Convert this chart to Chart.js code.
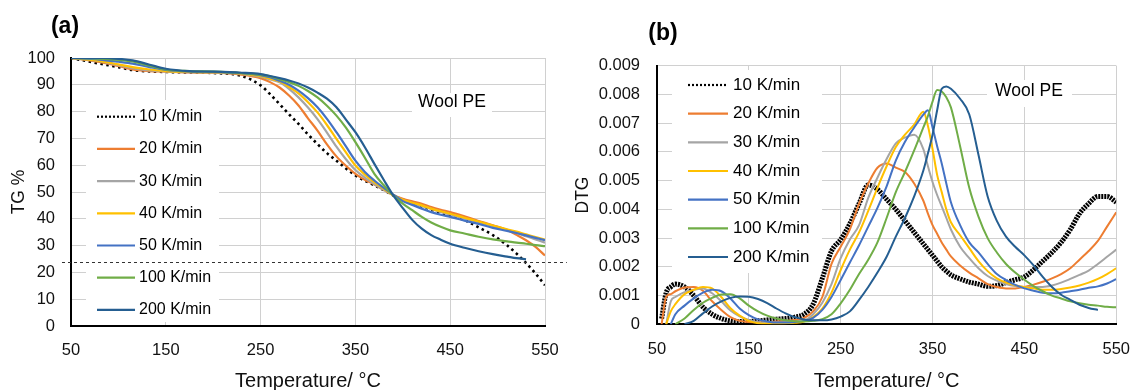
<!DOCTYPE html>
<html><head><meta charset="utf-8">
<script src="https://cdn.jsdelivr.net/npm/chart.js@4.4.1/dist/chart.umd.min.js"></script>
<style>
html,body{margin:0;padding:0;background:#fff;width:1145px;height:390px;overflow:hidden}
.panel{position:absolute;top:0;height:390px}
#pa{left:0;width:575px}
#pb{left:575px;width:570px}
canvas{display:block}
</style></head><body>
<div class="panel" id="pa"><canvas id="ca" width="575" height="390"></canvas></div>
<div class="panel" id="pb"><canvas id="cb" width="570" height="390"></canvas></div>
<script>
// ---------- shared ----------
const rateLabels = ['10 K/min','20 K/min','30 K/min','40 K/min','50 K/min','100 K/min','200 K/min'];
const rateColors = ['#000000','#ED7D31','#A5A5A5','#FFC000','#4472C4','#70AD47','#255E91'];
const xTicks = [50,150,250,350,450,550];

// ---------- panel (a): TG % ----------
const tempA = [50,80,100,115,133,150,175,200,230,250,260,270,280,290,300,310,320,330,340,350,360,370,380,390,400,410,420,430,440,450,465,480,495,510,520,530,540,550];
const tg10  = [100,97.9,96.6,95.5,95,94.8,94.6,94.4,93.3,89.8,86.5,82.8,79,75.4,71.5,67.9,64.5,61.7,58.8,56.2,54.2,52.5,50.7,48.7,47.2,45.9,44.6,43.4,42.2,41.2,39.5,36.8,33.9,30.1,27,23.5,19.6,15.2];
const tg20  = [100,98.5,97,95.7,95.1,94.9,94.6,94.5,93.8,92.5,91,89,86,82.3,77.5,72.9,67.8,63.3,59.8,56.8,54.6,52.8,50.8,48.9,47.5,46.5,45.6,44.4,43.4,42.5,40.9,39.2,37.6,35.8,34,32,29.5,26.3];
const tg30  = [100,98.8,97.3,96.2,95.4,95,94.7,94.6,94.1,93,92,90.9,88.5,85.3,81.5,77.2,72.2,66.9,62.2,58.2,55.4,53,50.8,48.8,47,45.9,44.8,43.7,42.6,41.6,40.1,38.8,37.3,35.8,34.7,33.5,32.3,31.1];
const tg40  = [100,98.9,97.6,96.6,95.7,95.1,94.8,94.7,94.2,93.3,92.3,91.2,89.2,86.8,83.5,79.7,75,69.8,64.8,59.9,56.5,53.7,51.2,48.8,47.1,46,45,43.8,42.8,41.9,40.4,39,37.5,36.1,35.2,34.2,33.2,32.2];
const tg50  = [100,99.4,98.6,97.9,96.6,95.6,95,94.8,94.3,93.6,92.8,91.5,90,87.8,85,81.6,77.3,72.3,67,61.7,57.5,54.3,51.5,49,46.6,45.2,43.8,42.5,41.5,40.7,39.3,38.1,36.6,35.5,34.7,33.8,32.9,32];
const tg100 = [100,99.8,99.3,98.7,97.1,95.7,95.1,94.9,94.4,93.8,93.2,92.1,91,89.6,87.7,85.3,82.2,78.5,74,68.6,62.8,56.8,52.5,48.7,45.7,43.2,40.7,38.6,37,35.7,34.5,33.3,32.3,31.6,31.1,30.7,30.2,29.8];
const tg200 = [100,100,99.7,99.1,97.5,96,95.1,94.9,94.5,94,93.3,92.5,91.6,90.5,89,87.1,84.8,81.6,77,72.3,66.7,60.5,54.5,48.7,44,39.6,36.3,33.9,32.2,30.7,29.2,27.9,26.8,25.9,25.3,24.9,null,null];
const tgTicks = [0,10,20,30,40,50,60,70,80,90,100];
const refLevel = 23.7;          // dashed horizontal reference (TG %)
const refSpan = [40.5, 573];    // temperature extent of the dashed line

// ---------- panel (b): DTG ----------
const tempB = [50,55,60,65,70,80,90,100,110,120,
  130,140,150,160,170,180,190,200,210,220,
  230,240,250,260,270,280,290,300,310,320,
  330,340,345,350,355,360,365,370,380,390,
  400,410,420,430,440,450,460,470,480,490,
  500,510,520,530,540,550];
const dtg10 = [null,0.0002,0.0011,0.0013,0.0014,0.0013,0.0010,0.0006,0.00035,0.0002,
  0.00012,0.0001,0.0001,0.00012,0.00015,0.00018,0.0002,0.00025,0.00035,0.0007,
  0.0016,0.00255,0.00295,0.0035,0.0042,0.00485,0.0047,0.00435,0.004,0.0036,
  0.0032,0.0028,0.0026,0.0024,0.0022,0.002,0.00185,0.00172,0.00158,0.00147,
  0.0014,0.00132,0.00135,0.00145,0.00155,0.00165,0.0019,0.0022,0.0025,0.00285,
  0.0033,0.00385,0.0042,0.00445,0.00445,0.00425];
const dtg20 = [null,0,0.00096,0.00105,0.00115,0.00128,0.0013,0.00117,0.0008,0.0005,
  0.00025,0.00012,0.00008,0.00007,0.00008,0.0001,0.00012,0.00015,0.00022,0.00045,
  0.00095,0.0021,0.0027,0.0033,0.0042,0.0049,0.00545,0.0056,0.00545,0.0053,
  0.0049,0.0043,0.00385,0.00345,0.00315,0.00285,0.0026,0.00236,0.00205,0.0018,
  0.0016,0.0014,0.0013,0.00125,0.00125,0.0013,0.00138,0.00148,0.0016,0.00175,
  0.00195,0.00225,0.00255,0.0029,0.0034,0.0039];
const dtg30 = [null,null,0,0.0008,0.00095,0.00112,0.0012,0.00125,0.00108,0.0008,
  0.00048,0.00028,0.00015,0.00007,0.00006,0.00006,0.00007,0.00008,0.00012,0.00035,
  0.00075,0.0014,0.0023,0.00295,0.00345,0.0044,0.0051,0.00575,0.0063,0.0065,
  0.0066,0.0061,0.0055,0.00495,0.0045,0.0041,0.0037,0.0033,0.0027,0.0023,
  0.00195,0.00168,0.00152,0.0014,0.00133,0.0013,0.0013,0.0013,0.00135,0.00145,
  0.00158,0.00172,0.00187,0.0021,0.00235,0.0026];
const dtg40 = [null,null,0,0.00045,0.0007,0.00105,0.0012,0.0013,0.00125,0.00095,
  0.00056,0.0003,0.00012,0.00004,0.00002,0.00002,0.00003,0.00005,0.0001,0.00025,
  0.00055,0.0011,0.00189,0.0026,0.0032,0.00395,0.00475,0.0055,0.00617,0.0066,
  0.00695,0.0074,0.0069,0.0061,0.0052,0.0046,0.004,0.00355,0.0031,0.00265,
  0.0022,0.00185,0.0016,0.00145,0.00136,0.0013,0.00125,0.0012,0.0012,0.00123,
  0.00128,0.00135,0.00145,0.00158,0.00175,0.00195];
const dtg50 = [null,null,null,0,0.00035,0.00065,0.0009,0.0011,0.0012,0.00115,
  0.0009,0.00055,0.00032,0.00017,0.0001,0.00006,0.00006,0.00008,0.00012,0.00022,
  0.0005,0.00095,0.00154,0.00215,0.00275,0.0034,0.00405,0.0048,0.0057,0.00635,
  0.00685,0.0073,0.00745,0.00685,0.0062,0.0056,0.0049,0.00425,0.00345,0.00285,
  0.0025,0.0021,0.00175,0.00154,0.00137,0.00125,0.00117,0.0011,0.00108,0.0011,
  0.00115,0.0012,0.00127,0.00132,0.00142,0.00157];
const dtg100 = [null,null,null,null,0,0.0002,0.0005,0.00075,0.00092,0.00104,
  0.00105,0.0009,0.00065,0.00045,0.0003,0.0002,0.00014,0.00011,0.0001,0.00012,
  0.00018,0.00035,0.00073,0.0012,0.00175,0.00225,0.00285,0.0037,0.0046,0.0053,
  0.00605,0.00685,0.00725,0.00775,0.00815,0.0081,0.0079,0.00755,0.0062,0.00475,
  0.00375,0.003,0.0025,0.0021,0.0018,0.00155,0.00133,0.00115,0.001,0.0009,
  0.0008,0.00073,0.00068,0.00065,0.00061,0.00059];
const dtg200 = [null,null,null,null,null,0,0.00012,0.00038,0.00062,0.0008,
  0.00092,0.00097,0.00096,0.00088,0.00074,0.00055,0.00038,0.00025,0.00017,0.00014,
  0.00014,0.00017,0.00027,0.00045,0.00085,0.0013,0.0018,0.00235,0.00305,0.0037,
  0.00445,0.00535,0.00595,0.0066,0.00745,0.0082,0.00828,0.0082,0.00785,0.0073,
  0.0059,0.00445,0.0036,0.00305,0.0027,0.0024,0.00205,0.00165,0.0013,0.00103,
  0.00085,0.00068,0.00057,0.0005,null,null];
const dtgTicks = [0,0.001,0.002,0.003,0.004,0.005,0.006,0.007,0.008,0.009];

// ---------- helpers ----------
const FONT = '"Liberation Sans", Arial, sans-serif';
const pair = (xs, ys) => xs.map((x, i) => ({x, y: ys[i]}));

function makeDatasets(xs, series, opts) {
  return series.map((ys, i) => {
    const dotted = i === 0;
    return {
      label: rateLabels[i],
      data: pair(xs, ys),
      borderColor: rateColors[i],
      backgroundColor: rateColors[i],
      borderWidth: dotted ? opts.dotWidth : opts.lineWidth,
      borderDash: dotted ? opts.dotDash : [],
      legendDash: dotted ? [2, 2] : [],
      pointRadius: 0,
      fill: false,
      cubicInterpolationMode: 'monotone',
      spanGaps: false,
      order: 10 - i
    };
  });
}

const decor = {
  id: 'decor',
  beforeDatasetsDraw(chart, args, o) {
    const ctx = chart.ctx;
    ctx.save();
    const L = o.legend;
    ctx.fillStyle = '#fff';
    ctx.fillRect(L.box[0], L.box[1], L.box[2], L.box[3]);
    chart.data.datasets.forEach((ds, i) => {
      if (ds.noLegend) return;
      const y = L.y0 + i * L.dy;
      ctx.beginPath();
      ctx.strokeStyle = ds.borderColor;
      ctx.lineWidth = L.lw;
      ctx.setLineDash(ds.legendDash || []);
      ctx.moveTo(L.x1, y); ctx.lineTo(L.x2, y); ctx.stroke();
      ctx.setLineDash([]);
      ctx.fillStyle = '#000';
      ctx.font = L.font;
      ctx.textAlign = 'left';
      ctx.textBaseline = 'middle';
      ctx.fillText(ds.label, L.tx, y);
    });
    const T = o.tag;
    ctx.fillStyle = '#fff';
    ctx.fillRect(T.box[0], T.box[1], T.box[2], T.box[3]);
    ctx.fillStyle = '#000';
    ctx.font = T.font;
    ctx.textAlign = 'center';
    ctx.textBaseline = 'middle';
    ctx.fillText(T.text, T.x, T.y);
    ctx.restore();
  },
  afterDraw(chart, args, o) {
    const ctx = chart.ctx;
    ctx.save();
    ctx.fillStyle = '#000';
    ctx.font = 'bold 23px ' + FONT;
    ctx.textAlign = 'center';
    ctx.textBaseline = 'middle';
    ctx.fillText(o.letter.text, o.letter.x, o.letter.y);
    ctx.restore();
  }
};

function makeOptions(cfg) {
  return {
    responsive: false,
    animation: false,
    events: [],
    layout: {padding: cfg.padding},
    plugins: {
      legend: {display: false},
      tooltip: {enabled: false},
      decor: cfg.decor
    },
    scales: {
      x: {
        type: 'linear', min: 50, max: 550,
        afterBuildTicks: s => { s.ticks = xTicks.map(v => ({value: v})); },
        afterFit: s => { s.height = cfg.xHeight; },
        grid: {color: '#d0d0d0', lineWidth: 1, drawTicks: false},
        border: {color: '#000', width: 2},
        ticks: {font: {family: FONT, size: 16.5}, color: '#111', padding: 15, maxRotation: 0},
        title: {display: true, text: 'Temperature/ °C', font: {family: FONT, size: 20}, color: '#111', padding: {top: 0, bottom: -3}}
      },
      y: {
        type: 'linear', min: cfg.yMin, max: cfg.yMax,
        afterBuildTicks: s => { s.ticks = cfg.yTicks.map(v => ({value: v})); },
        afterFit: s => { s.width = cfg.yWidth; },
        grid: {color: '#d0d0d0', lineWidth: 1, drawTicks: false},
        border: {color: '#000', width: 2},
        ticks: {font: {family: FONT, size: 16.5}, color: '#111', padding: cfg.yPad, callback: cfg.yFmt},
        title: {display: true, text: cfg.yTitle, font: {family: FONT, size: 17.5}, color: '#111', padding: {top: cfg.yTitlePad, bottom: 0}}
      }
    }
  };
}

// ---------- chart (a) ----------
const dsA = makeDatasets(tempA, [tg10, tg20, tg30, tg40, tg50, tg100, tg200], {lineWidth: 2.2, dotWidth: 2.6, dotDash: [2.5, 3.5]});
dsA.push({
  label: 'ref', noLegend: true,
  data: [{x: refSpan[0], y: refLevel}, {x: refSpan[1], y: refLevel}],
  borderColor: '#333', borderWidth: 1.2, borderDash: [3, 3], pointRadius: 0, clip: false, order: -1
});
new Chart(document.getElementById('ca'), {
  type: 'line',
  data: {datasets: dsA},
  options: makeOptions({
    padding: {left: 0, top: 58, right: 30, bottom: 0},
    xHeight: 64, yWidth: 71, yPad: 16, yTitlePad: 9,
    yMin: 0, yMax: 100, yTicks: tgTicks, yTitle: 'TG %',
    yFmt: v => String(v),
    decor: {
      legend: {box: [86, 100, 133, 222], y0: 116.7, dy: 32.2, x1: 97, x2: 135, tx: 139, lw: 2.2, font: '16px ' + FONT},
      tag: {text: 'Wool PE', box: [412, 93, 80, 24], x: 452, y: 102.5, font: '17.5px ' + FONT},
      letter: {text: '(a)', x: 65, y: 27}
    }
  }),
  plugins: [decor]
});

// ---------- chart (b) ----------  (canvas starts at page x = 575)
const dsB = makeDatasets(tempB, [dtg10, dtg20, dtg30, dtg40, dtg50, dtg100, dtg200], {lineWidth: 2, dotWidth: 5, dotDash: [2, 1]});
new Chart(document.getElementById('cb'), {
  type: 'line',
  data: {datasets: dsB},
  options: makeOptions({
    padding: {left: 0, top: 65.7, right: 15, bottom: 0},
    xHeight: 65.7, yWidth: 82, yPad: 17, yTitlePad: -2,
    yMin: 0, yMax: 0.009, yTicks: dtgTicks, yTitle: 'DTG',
    yFmt: v => (v === 0 ? '0' : v.toFixed(3)),
    decor: {
      legend: {box: [97, 70, 150, 203], y0: 85, dy: 28.67, x1: 113, x2: 153, tx: 158, lw: 2.2, font: '17px ' + FONT},
      tag: {text: 'Wool PE', box: [412, 80, 85, 27], x: 454, y: 91, font: '17.5px ' + FONT},
      letter: {text: '(b)', x: 88, y: 34}
    }
  }),
  plugins: [decor]
});
</script>
</body></html>
